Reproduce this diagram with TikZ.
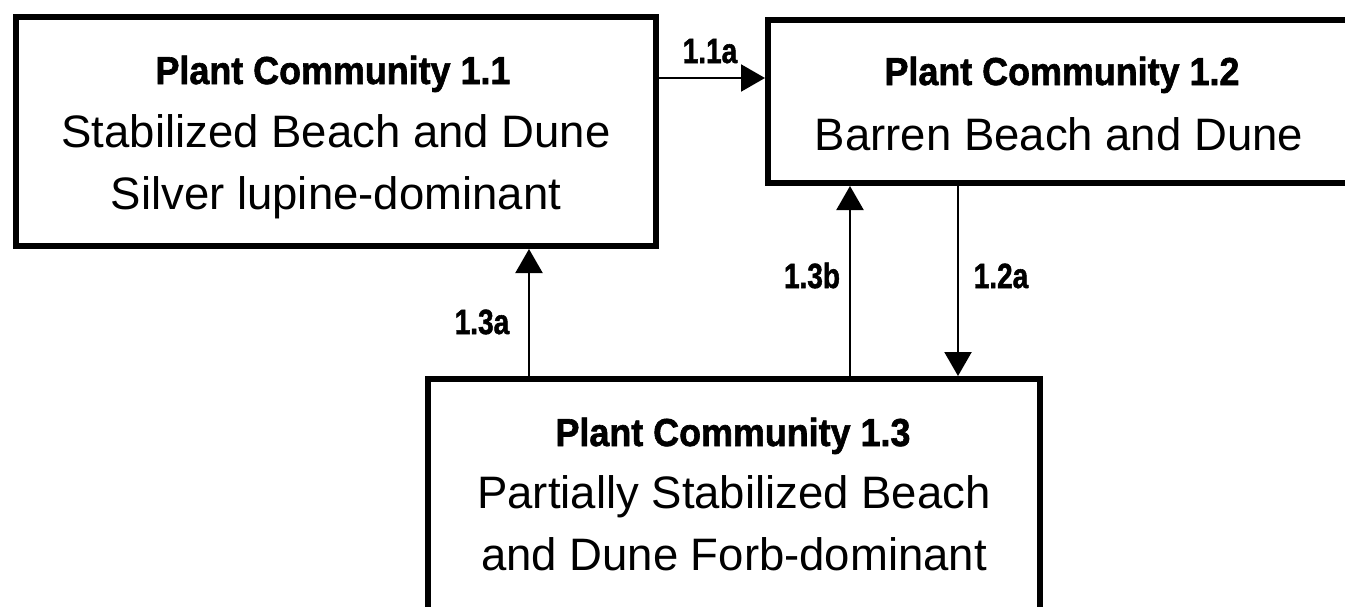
\documentclass[tikz,border=0pt]{standalone}
\usepackage{fontspec}
\setmainfont{Liberation Sans}
\newfontfamily\heavyfont{Liberation Sans Bold}[FakeBold=1.6]
\usetikzlibrary{arrows.meta}
\tikzset{
  box/.style={draw=black, line width=6pt, rectangle, inner sep=0pt},
  head/.style={anchor=base, inner sep=0pt, font=\fontsize{39}{44}\selectfont\heavyfont},
  body/.style={anchor=base, inner sep=0pt, font=\fontsize{45.5}{52}\selectfont},
  lbl/.style={anchor=base, inner sep=0pt, font=\fontsize{35}{40}\selectfont\heavyfont},
  conn/.style={draw=black, line width=2.2pt, -{Triangle[length=24pt,width=27pt]}},
}
\newcommand{\hd}[1]{\scalebox{0.92}[1]{#1}}
\newcommand{\lb}[1]{\scalebox{0.8}[1]{#1}}
\begin{document}
\begin{tikzpicture}[x=1pt,y=-1pt]
\useasboundingbox (0,0) rectangle (1345,606);
\fill[white] (0,0) rectangle (1345,606);
% boxes
\node[box, minimum width=640.5pt, minimum height=229pt] (c11) at (336,131.5) {};
\node[box, minimum width=587pt, minimum height=163pt] (c12) at (1061.5,101.5) {};
\node[box, minimum width=612pt, minimum height=241pt] (c13) at (734,499.5) {};
% texts
\node[head] (h11) at (333,84) {\hd{Plant Community 1.1}};
\node[body] (b11a) at (336,147) {Stabilized Beach and Dune};
\node[body] (b11b) at (336,209) {Silver lupine-dominant};
\node[head] (h12) at (1062,85) {\hd{Plant Community 1.2}};
\node[body] (b12a) at (1059,150) {Barren Beach and Dune};
\node[head] (h13) at (733,446) {\hd{Plant Community 1.3}};
\node[body] (b13a) at (734,508) {Partially Stabilized Beach};
\node[body] (b13b) at (734,570) {and Dune Forb-dominant};
% connector positions
\coordinate (ya) at (0,78);
\coordinate (xa) at (529,0);
\coordinate (xb) at (850,0);
\coordinate (xc) at (958,0);
% connectors
\draw[conn] (c11.east |- ya) -- (c12.west |- ya);
\draw[conn] (c13.north -| xa) -- (c11.south -| xa);
\draw[conn] (c13.north -| xb) -- (c12.south -| xb);
\draw[conn] (c12.south -| xc) -- (c13.north -| xc);
% labels
\node[lbl] (l11a) at (710,63) {\lb{1.1a}};
\node[lbl] (l13a) at (482,334) {\lb{1.3a}};
\node[lbl] (l13b) at (812,288) {\lb{1.3b}};
\node[lbl] (l12a) at (1001,288) {\lb{1.2a}};
\end{tikzpicture}
\end{document}
